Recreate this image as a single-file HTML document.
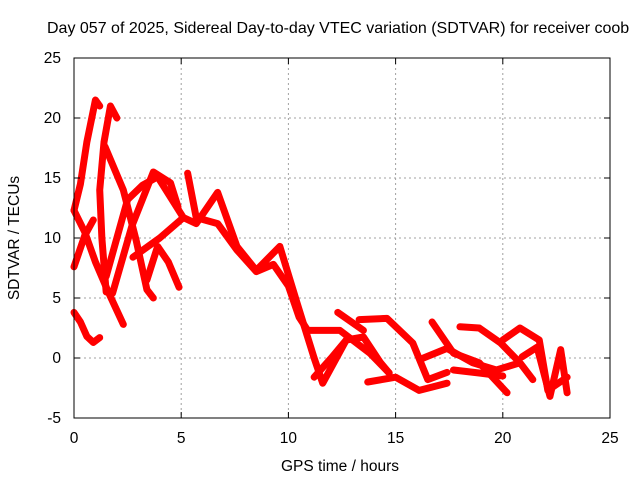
<!DOCTYPE html>
<html><head><meta charset="utf-8"><style>
body{margin:0;background:#fff;overflow:hidden}
svg{font-family:"Liberation Sans",sans-serif;font-size:15.5px}
</style></head><body>
<svg width="640" height="480" viewBox="0 0 640 480" xmlns="http://www.w3.org/2000/svg">
<rect width="640" height="480" fill="#fff"/>
<g id="grid"></g>
<g id="series"></g>
<rect x="74" y="58" width="536" height="360" fill="none" stroke="#000" stroke-width="1"/>
<g id="ticks"></g>
<text x="47" y="33" font-size="16">Day 057 of 2025, Sidereal Day-to-day VTEC variation (SDTVAR) for receiver coob</text>
<text x="340" y="471" text-anchor="middle">GPS time / hours</text>
<text transform="translate(19,238) rotate(-90)" text-anchor="middle">SDTVAR / TECUs</text>
</svg>
<script>
const xTicks=[0,5,10,15,20,25];
const yTicks=[-5,0,5,10,15,20,25];
const s1=[[0,12.3],[0.3,14.5],[0.6,18],[1.0,21.5],[1.2,21]];
const s2=[[1.5,5.5],[1.3,10],[1.2,14],[1.4,18],[1.7,21],[2.0,20]];
const s3=[[0,12.3],[0.5,10.5],[1.0,8],[1.6,5.5],[2.3,2.8]];
const s4=[[0,7.6],[0.5,10.2],[0.9,11.5]];
const s5=[[0,3.8],[0.3,3],[0.6,1.8],[0.9,1.3],[1.2,1.7]];
const s6=[[1.45,17.6],[2.3,14],[2.9,9.8],[3.4,5.7],[3.7,5]];
const s7=[[1.8,5.4],[2.7,11],[3.7,15.5],[4.5,14.6],[4.85,12.6]];
const s8=[[1.5,6.8],[2.5,13.2],[3.2,14.4],[3.9,15.1],[5.1,11.7],[5.7,11.2],[6.7,13.8],[7.6,9.3],[8.5,7.3],[9.6,9.3],[10.4,4.6],[11.2,0],[11.6,-2.1],[12.7,1.5],[13.5,1.75],[14.3,-0.4],[14.7,-1.25]];
const s9=[[5.3,15.4],[5.7,11.7],[6.7,11.2],[7.6,9],[8.5,7.2],[9.3,7.8],[10.0,6],[10.5,3.4],[10.9,2.3],[12.4,2.3],[13.8,0.4],[14.7,-1.25]];
const s10=[[2.75,8.4],[4.0,10],[5.1,11.7]];
const s11=[[3.4,6.5],[3.9,9.3],[4.4,8],[4.9,5.9]];
const s12=[[12.3,3.8],[13.5,2.3]];
const s13=[[13.3,3.2],[14.6,3.3],[15.8,1.25],[16.5,-1.8],[17.4,-1.2]];
const s14=[[11.2,-1.6],[12.0,0],[12.7,1.5]];
const s15=[[13.7,-2],[15,-1.6],[16.1,-2.7],[17.4,-2.1]];
const s16=[[16.7,3],[17.7,0.4],[18.9,-0.4],[20.2,-2.9]];
const s17=[[16.3,0],[17.4,0.8],[18.6,-0.4],[19.7,-1],[20.8,-0.4]];
const s18=[[18,2.6],[18.9,2.5],[19.9,1.25],[20.8,-0.4],[21.4,-1.8]];
const s19=[[20,1.5],[20.8,2.5],[21.7,1.5],[22.1,-2.7],[23,-1.6]];
const s20=[[20.9,0.1],[21.6,0.9],[22.2,-3.2],[22.7,0.7],[23,-2.9]];
const s21=[[17.7,-1],[18.9,-1.25],[20,-1.5]];
const allSeries=[s1,s2,s3,s4,s5,s6,s7,s8,s9,s10,s11,s12,s13,s14,s15,s16,s17,s18,s19,s20,s21];
const NS='http://www.w3.org/2000/svg';
function xs(t){return 74+(t-0)*536/25;}
function ys(v){return 418-(v+5)*360/30;}
const grid=document.getElementById('grid'),ticks=document.getElementById('ticks'),ser=document.getElementById('series');
function mk(tag,attrs,parent){const e=document.createElementNS(NS,tag);for(const k in attrs)e.setAttribute(k,attrs[k]);parent.appendChild(e);return e;}
xTicks.forEach(t=>{
 const x=xs(t);
 if(t>0&&t<25){const g=mk('line',{x1:x,x2:x,y1:58,y2:418,stroke:'#a0a0a0','stroke-dasharray':'2,3'},grid);
 
 }
 mk('line',{x1:x,x2:x,y1:418,y2:412,stroke:'#000'},ticks);
 mk('line',{x1:x,x2:x,y1:58,y2:64,stroke:'#000'},ticks);
 const l=mk('text',{x:x,y:443,'text-anchor':'middle'},ticks);l.textContent=t;
 
 
});
yTicks.forEach(v=>{
 const y=ys(v);
 if(v>-5&&v<25){const g=mk('line',{x1:74,x2:610,y1:y,y2:y,stroke:'#a0a0a0','stroke-dasharray':'2,3'},grid);
 
 }
 mk('line',{x1:74,x2:80,y1:y,y2:y,stroke:'#000'},ticks);
 mk('line',{x1:610,x2:604,y1:y,y2:y,stroke:'#000'},ticks);
 const l=mk('text',{x:61,y:y+5,'text-anchor':'end'},ticks);l.textContent=v;
 
 
});
allSeries.forEach((s,i)=>{
 const p=mk('polyline',{points:s.map(d=>xs(d[0])+','+ys(d[1])).join(' '),fill:'none',stroke:'#ff0000','stroke-width':7,'stroke-linejoin':'round','stroke-linecap':'round'},ser);
 
 
});
</script>
</body></html>
